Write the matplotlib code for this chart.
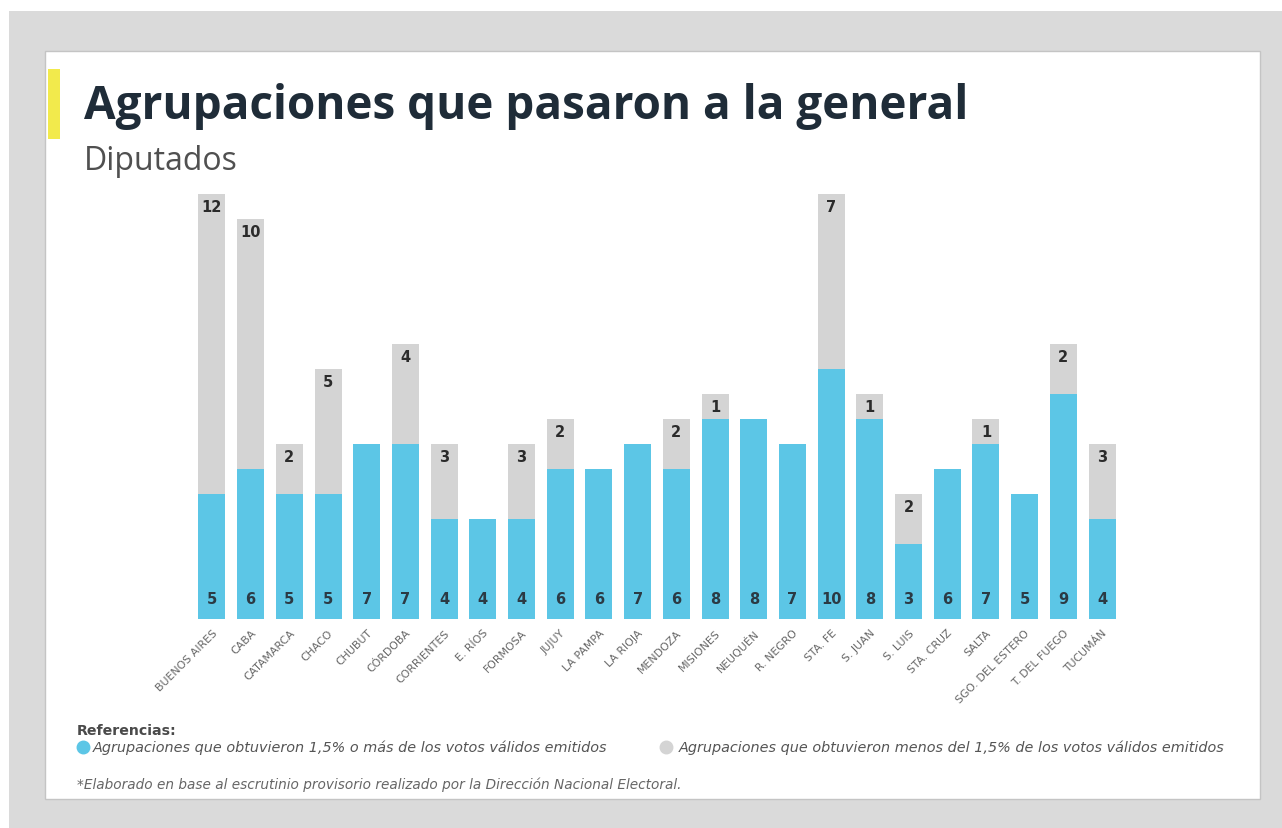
import matplotlib.pyplot as plt
from matplotlib.patches import Rectangle
from matplotlib.lines import Line2D
import numpy as np

provincias = ["BUENOS AIRES", "CABA", "CATAMARCA", "CHACO", "CHUBUT", "CÓRDOBA",
              "CORRIENTES", "E. RÍOS", "FORMOSA", "JUJUY", "LA PAMPA", "LA RIOJA",
              "MENDOZA", "MISIONES", "NEUQUÉN", "R. NEGRO", "STA. FE", "S. JUAN",
              "S. LUIS", "STA. CRUZ", "SALTA", "SGO. DEL ESTERO", "T. DEL FUEGO", "TUCUMÁN"]
# agrupaciones con 1,5% o mas / con menos del 1,5%
sobre_umbral = [5, 6, 5, 5, 7, 7, 4, 4, 4, 6, 6, 7, 6, 8, 8, 7, 10, 8, 3, 6, 7, 5, 9, 4]
bajo_umbral = [12, 10, 2, 5, 0, 4, 3, 0, 3, 2, 0, 0, 2, 1, 0, 0, 7, 1, 2, 0, 1, 0, 2, 3]

AZUL = "#5cc6e6"
GRIS = "#d4d4d4"

W, H = 1282, 829
def fx(px):
    return px / W
def fy(py):
    return 1 - py / H

fig = plt.figure(figsize=(12.82, 8.29), dpi=100)
fig.patch.set_facecolor("white")

# fondo gris y tarjeta blanca
fig.add_artist(Rectangle((fx(9), 0), 1 - fx(9), fy(12), transform=fig.transFigure,
                         facecolor="#dadada", edgecolor="none", zorder=-3))
fig.add_artist(Rectangle((fx(45), fy(800)), fx(1260) - fx(45), fy(52) - fy(800),
                         transform=fig.transFigure, facecolor="white",
                         edgecolor="#c4c4c4", linewidth=1, zorder=-2))
fig.add_artist(Rectangle((fx(48), fy(140)), fx(60) - fx(48), fy(70) - fy(140),
                         transform=fig.transFigure, facecolor="#f2ea4c",
                         edgecolor="none", zorder=-1))

fig.text(fx(84), fy(106), "Agrupaciones que pasaron a la general", fontsize=33,
         fontweight="bold", color="#1f2c38", va="center", family="Open Sans")
fig.text(fx(84), fy(162), "Diputados", fontsize=23, color="#505050",
         va="center", family="Open Sans")

ax = fig.add_axes([fx(192.6), fy(620), fx(1121.4) - fx(192.6), fy(182.5) - fy(620)])
x = np.arange(len(provincias))
ax.bar(x, sobre_umbral, width=0.7, color=AZUL)
ax.bar(x, bajo_umbral, width=0.7, bottom=sobre_umbral, color=GRIS)

for i in range(len(provincias)):
    ax.text(x[i], 0.8, str(sobre_umbral[i]), ha="center", va="center",
            fontsize=10.5, fontweight="bold", color="#2b3a44")
    if bajo_umbral[i] > 0:
        ax.text(x[i], sobre_umbral[i] + bajo_umbral[i] - 0.5, str(bajo_umbral[i]),
                ha="center", va="center", fontsize=10.5, fontweight="bold",
                color="#2b2b2b")

ax.set_xlim(-0.5, len(provincias) - 0.5)
ax.set_ylim(0, 17.5)
ax.set_xticks(x)
ax.set_xticklabels(provincias, rotation=45, ha="right", rotation_mode="anchor",
                   fontsize=7.8, color="#666666")
ax.tick_params(axis="x", length=0, pad=6)
ax.set_yticks([])
for s in ax.spines.values():
    s.set_visible(False)
ax.patch.set_alpha(0)

# referencias
fig.text(fx(77), fy(731), "Referencias:", fontsize=10.2, fontweight="bold",
         color="#4a4a4a", va="center")
fig.add_artist(Line2D([fx(83)], [fy(748)], marker="o", markersize=9,
                      color=AZUL, transform=fig.transFigure))
fig.text(fx(93), fy(748), "Agrupaciones que obtuvieron 1,5% o más de los votos válidos emitidos",
         fontsize=10.4, style="italic", color="#555555", va="center")
fig.add_artist(Line2D([fx(666)], [fy(748)], marker="o", markersize=9,
                      color=GRIS, transform=fig.transFigure))
fig.text(fx(679), fy(748), "Agrupaciones que obtuvieron menos del 1,5% de los votos válidos emitidos",
         fontsize=10.4, style="italic", color="#555555", va="center")
fig.text(fx(77), fy(785), "*Elaborado en base al escrutinio provisorio realizado por la Dirección Nacional Electoral.",
         fontsize=9.8, style="italic", color="#666666", va="center")

fig.savefig("out.png", dpi=100)
